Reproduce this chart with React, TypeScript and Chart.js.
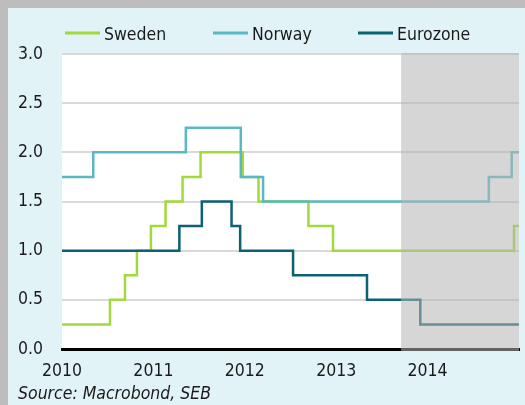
import React, { useEffect, useRef } from 'react';
import { Chart, registerables } from 'chart.js';

Chart.register(...registerables);

// ---- data (decimal years, policy rate %) ----
const yearTicks = [2010, 2011, 2012, 2013, 2014];
const forecastStart = 2013.71;

const swedenX = [2010.0, 2010.525, 2010.689, 2010.82, 2010.973, 2011.133, 2011.319, 2011.516, 2011.978, 2012.15, 2012.696, 2012.965, 2014.945, 2015.0];
const swedenY = [0.25, 0.5, 0.75, 1.0, 1.25, 1.5, 1.75, 2.0, 1.75, 1.5, 1.25, 1.0, 1.25, 1.25];

const norwayX = [2010.0, 2010.342, 2011.355, 2011.956, 2012.2, 2014.67, 2014.92, 2015.0];
const norwayY = [1.75, 2.0, 2.25, 1.75, 1.5, 1.75, 2.0, 2.0];

const euroX = [2010.0, 2011.284, 2011.53, 2011.855, 2011.949, 2012.528, 2013.337, 2013.92, 2015.0];
const euroY = [1.0, 1.25, 1.5, 1.25, 1.0, 0.75, 0.5, 0.25, 0.25];

const seriesNames = ['Sweden', 'Norway', 'Eurozone'];
const sourceText = 'Source: Macrobond, SEB';

const GREEN = '#a2d93b';
const NORWAY = '#5ab8c4';
const EURO = '#0c6173';
const FONT = "'DejaVu Sans Condensed', 'Liberation Sans Narrow', sans-serif";
const FS = 17.5;

const pts = (x: number[], y: number[]) => x.map((v, i) => ({ x: v, y: y[i] }));

const decoPlugin = {
  id: 'deco',
  beforeDraw(chart: any) {
    const { ctx, chartArea: a } = chart;
    ctx.save();
    ctx.fillStyle = '#ffffff';
    ctx.fillRect(a.left, a.top - 1, a.right - a.left, a.bottom - a.top + 1);
    ctx.restore();
  },
  afterDatasetsDraw(chart: any) {
    const { ctx, chartArea: a } = chart;
    const x0 = chart.scales.x.getPixelForValue(forecastStart);
    ctx.save();
    ctx.fillStyle = 'rgba(180,180,180,0.55)';
    ctx.fillRect(x0, a.top - 1, a.right - x0, a.bottom - a.top + 3);
    ctx.restore();
  },
  afterDraw(chart: any) {
    const { ctx } = chart;
    const colors = [GREEN, NORWAY, EURO];
    const xs = [57, 205, 350];
    ctx.save();
    ctx.font = `${FS}px ${FONT}`;
    ctx.textBaseline = 'alphabetic';
    ctx.textAlign = 'left';
    seriesNames.forEach((name, i) => {
      ctx.strokeStyle = colors[i];
      ctx.lineWidth = 3;
      ctx.beginPath();
      ctx.moveTo(xs[i], 25);
      ctx.lineTo(xs[i] + 35, 25);
      ctx.stroke();
      ctx.fillStyle = '#1a1a1a';
      ctx.fillText(name, xs[i] + 39, 31.5);
    });
    ctx.font = `italic ${FS}px ${FONT}`;
    ctx.fillStyle = '#1a1a1a';
    ctx.fillText(sourceText, 10, 391);
    ctx.restore();
  },
};

export default function App() {
  const ref = useRef<HTMLCanvasElement>(null);

  useEffect(() => {
    const canvas = ref.current;
    if (!canvas) return;
    const common = { borderWidth: 2.5, stepped: 'before' as const, pointRadius: 0, fill: false, tension: 0 };
    const chart = new Chart(canvas, {
      type: 'line',
      data: {
        datasets: [
          { ...common, label: seriesNames[0], data: pts(swedenX, swedenY), borderColor: GREEN, order: 2 },
          { ...common, label: seriesNames[1], data: pts(norwayX, norwayY), borderColor: NORWAY, order: 1 },
          { ...common, label: seriesNames[2], data: pts(euroX, euroY), borderColor: EURO, order: 0 },
        ],
      },
      options: {
        responsive: false,
        animation: false,
        devicePixelRatio: 1,
        layout: { padding: { left: 0, right: 6, top: 46, bottom: 0 } },
        plugins: { legend: { display: false }, tooltip: { enabled: false } },
        scales: {
          x: {
            type: 'linear',
            min: 2010,
            max: 2015,
            afterBuildTicks: (s: any) => {
              s.ticks = yearTicks.map((v) => ({ value: v }));
            },
            afterFit: (s: any) => {
              s.height = 56;
            },
            grid: { display: false, drawTicks: false },
            border: { display: true, color: '#000000', width: 3 },
            ticks: {
              padding: 12,
              maxRotation: 0,
              autoSkip: false,
              color: '#1a1a1a',
              font: { family: FONT, size: FS },
              callback: (v: any) => String(v),
            },
          },
          y: {
            min: 0,
            max: 3,
            afterFit: (s: any) => {
              s.width = 54;
            },
            grid: {
              drawTicks: false,
              lineWidth: 2,
              color: (c: any) => (c.tick && c.tick.value === 0 ? 'rgba(0,0,0,0)' : '#d9d9d9'),
            },
            border: { display: false },
            ticks: {
              stepSize: 0.5,
              padding: 19,
              color: '#1a1a1a',
              font: { family: FONT, size: FS },
              callback: (v: any) => Number(v).toFixed(1),
            },
          },
        },
      },
      plugins: [decoPlugin],
    });
    return () => chart.destroy();
  }, []);

  return (
    <div style={{ position: 'fixed', left: 0, top: 0, width: 525, height: 405, background: '#bdbdbd', overflow: 'hidden' }}>
      <div style={{ position: 'absolute', left: 8, top: 8, width: 517, height: 397, background: '#e2f3f8' }}>
        <canvas ref={ref} width={517} height={397} style={{ display: 'block' }} />
      </div>
    </div>
  );
}
